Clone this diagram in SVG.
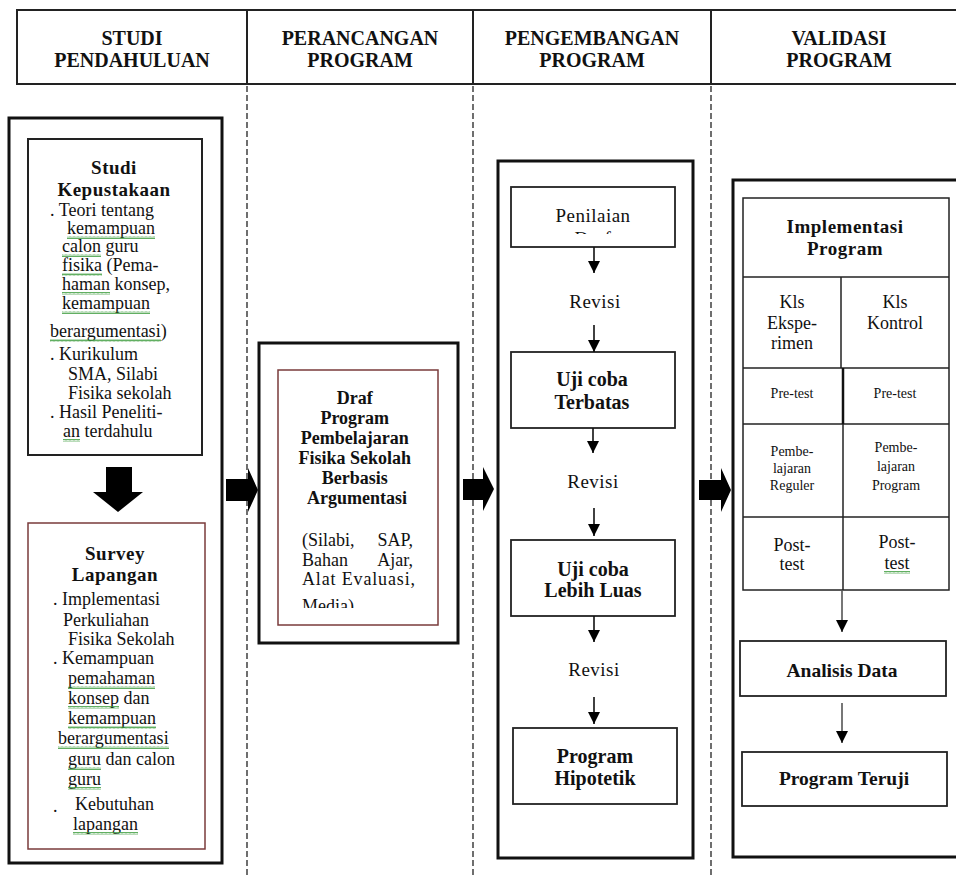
<svg xmlns="http://www.w3.org/2000/svg" width="956" height="878" viewBox="0 0 956 878">
<style>
text{font-family:"Liberation Serif","Times New Roman",serif;fill:#111}
.h{font-size:20px;font-weight:bold;text-anchor:middle}
.t{font-size:19px;font-weight:bold;text-anchor:middle;letter-spacing:0.5px}
.tb{font-size:20px;font-weight:bold;text-anchor:middle}
.b{font-size:18px}
.r{font-size:18px;text-anchor:end}
.c{font-size:19px;text-anchor:middle;letter-spacing:0.5px}
.k{font-size:18px;text-anchor:middle}
.s{font-size:14px;text-anchor:middle}
.outer{fill:#fff;stroke:#111;stroke-width:3}
.inner{fill:#fff;stroke:#222;stroke-width:2}
.brown{fill:#fff;stroke:#7a3b3b;stroke-width:1.5}
.box{fill:#fff;stroke:#222;stroke-width:1.8}
.grid{fill:none;stroke:#222;stroke-width:1.5}
.dash{stroke:#222;stroke-width:1.3;stroke-dasharray:6 3}
.ln{stroke:#111;stroke-width:1.6;fill:none;marker-end:url(#ah)}
.ln2{stroke:#555;stroke-width:1.6;fill:none;marker-end:url(#ah)}
.blk{fill:#000}
.sq{fill:url(#sq)}
</style>
<defs>
<marker id="ah" viewBox="0 0 10 10" refX="10" refY="5" markerWidth="12" markerHeight="12" markerUnits="userSpaceOnUse" orient="auto"><path d="M0,0 L10,5 L0,10 z" fill="#000"/></marker>
<pattern id="sq" width="4" height="3" patternUnits="userSpaceOnUse"><path d="M0,2.5 L1,0.5 L2,2.5 L3,0.5 L4,2.5" fill="none" stroke="#3a9a3a" stroke-width="0.8"/></pattern>
<clipPath id="clipMedia"><rect x="278" y="370" width="160" height="238"/></clipPath>
<clipPath id="clipDraf"><rect x="511" y="187" width="164" height="47"/></clipPath>
</defs>

<g id="header">
<rect x="17" y="10" width="960" height="74" fill="#fff" stroke="#222" stroke-width="2"/>
<line x1="247" y1="10" x2="247" y2="84" stroke="#222" stroke-width="2"/>
<line x1="473" y1="10" x2="473" y2="84" stroke="#222" stroke-width="2"/>
<line x1="711" y1="10" x2="711" y2="85" stroke="#222" stroke-width="2"/>
<text class="h" x="132" y="45">STUDI</text>
<text class="h" x="132" y="67">PENDAHULUAN</text>
<text class="h" x="360" y="45">PERANCANGAN</text>
<text class="h" x="360" y="67">PROGRAM</text>
<text class="h" x="592" y="45">PENGEMBANGAN</text>
<text class="h" x="592" y="67">PROGRAM</text>
<text class="h" x="839" y="45">VALIDASI</text>
<text class="h" x="839" y="67">PROGRAM</text>
</g>

<g id="lanes">
<line class="dash" x1="247" y1="86" x2="247" y2="878"/>
<line class="dash" x1="473" y1="86" x2="473" y2="878"/>
<line class="dash" x1="711" y1="86" x2="711" y2="878"/>
</g>

<g id="studi-pendahuluan">
<rect class="outer" x="9" y="118" width="213" height="745"/>
</g>

<g id="studi-kepustakaan">
<rect class="inner" x="28" y="139" width="174" height="316"/>
<text class="t" x="114" y="174">Studi</text>
<text class="t" x="114" y="196">Kepustakaan</text>
<text class="b">
<tspan x="50" y="216">. Teori tentang</tspan>
<tspan x="67" y="234">kemampuan</tspan>
<tspan x="62" y="252">calon guru</tspan>
<tspan x="62" y="271">fisika (Pema-</tspan>
<tspan x="62" y="290">haman konsep,</tspan>
<tspan x="62" y="309">kemampuan</tspan>
<tspan x="50" y="337">berargumentasi)</tspan>
<tspan x="50" y="360">. Kurikulum</tspan>
<tspan x="68" y="380">SMA, Silabi</tspan>
<tspan x="68" y="399">Fisika sekolah</tspan>
<tspan x="50" y="418">.  Hasil  Peneliti-</tspan>
<tspan x="63" y="437">an terdahulu</tspan>
</text>
<rect class="sq" x="67" y="236" width="88" height="3"/>
<rect class="sq" x="62" y="254" width="39" height="3"/>
<rect class="sq" x="62" y="273" width="40" height="3"/>
<rect class="sq" x="62" y="292" width="48" height="3"/>
<rect class="sq" x="62" y="311" width="88" height="3"/>
<rect class="sq" x="50" y="339" width="111" height="3"/>
<rect class="sq" x="63" y="439" width="17" height="3"/>
</g>

<g id="survey-lapangan">
<rect class="brown" x="28" y="523" width="177" height="326"/>
<text class="t" x="115" y="560">Survey</text>
<text class="t" x="115" y="581">Lapangan</text>
<text class="b">
<tspan x="53" y="605">. Implementasi</tspan>
<tspan x="63" y="626">Perkuliahan</tspan>
<tspan x="68" y="645">Fisika Sekolah</tspan>
<tspan x="53" y="664">. Kemampuan</tspan>
<tspan x="68" y="684">pemahaman</tspan>
<tspan x="68" y="704">konsep dan</tspan>
<tspan x="68" y="724">kemampuan</tspan>
<tspan x="58" y="744">berargumentasi</tspan>
<tspan x="68" y="765">guru dan calon</tspan>
<tspan x="68" y="785">guru</tspan>
</text>
<text class="b" x="53" y="812">.</text>
<text class="b" x="75" y="810">Kebutuhan</text>
<text class="b" x="73" y="830">lapangan</text>
<rect class="sq" x="68" y="686" width="87" height="3"/>
<rect class="sq" x="68" y="706" width="51" height="3"/>
<rect class="sq" x="68" y="726" width="88" height="3"/>
<rect class="sq" x="58" y="746" width="111" height="3"/>
<rect class="sq" x="68" y="767" width="33" height="3"/>
<rect class="sq" x="68" y="787" width="33" height="3"/>
<rect class="sq" x="73" y="832" width="65" height="3"/>
</g>

<g id="perancangan">
<rect class="outer" x="259" y="343" width="199" height="300"/>
</g>

<g id="draf-program">
<rect class="brown" x="278" y="370" width="160" height="255"/>
<text class="tb" style="font-size:18px" x="357">
<tspan x="357" y="404">Draf</tspan>
<tspan x="357" y="424">Program</tspan>
<tspan x="357" y="444">Pembelajaran</tspan>
<tspan x="357" y="464">Fisika Sekolah</tspan>
<tspan x="357" y="484">Berbasis</tspan>
<tspan x="357" y="504">Argumentasi</tspan>
</text>
<g clip-path="url(#clipMedia)">
<text class="b" x="302" y="546">(Silabi,</text>
<text class="r" x="413" y="546">SAP,</text>
<text class="b" x="302" y="566">Bahan</text>
<text class="r" x="413" y="566">Ajar,</text>
<text class="b" x="302" y="585" textLength="113" lengthAdjust="spacing">Alat Evaluasi,</text>
<text class="b" x="302" y="612">Media)</text>
</g>
</g>

<g id="pengembangan">
<rect class="outer" x="498" y="161" width="195" height="697"/>
</g>

<g id="penilaian-draf">
<rect class="box" x="511" y="187" width="164" height="60"/>
<g clip-path="url(#clipDraf)">
<text class="c" x="593" y="222">Penilaian</text>
<text class="c" x="593" y="245">Draf</text>
</g>
</g>

<g id="revisi-1"><text class="c" x="595" y="308">Revisi</text></g>

<g id="uji-terbatas">
<rect class="box" x="511" y="352" width="164" height="76"/>
<text class="tb" x="592" y="386">Uji coba</text>
<text class="tb" x="592" y="409">Terbatas</text>
</g>

<g id="revisi-2"><text class="c" x="593" y="488">Revisi</text></g>

<g id="uji-luas">
<rect class="box" x="511" y="540" width="164" height="76"/>
<text class="tb" x="593" y="576">Uji coba</text>
<text class="tb" x="593" y="597">Lebih Luas</text>
</g>

<g id="revisi-3"><text class="c" x="594" y="676">Revisi</text></g>

<g id="program-hipotetik">
<rect class="box" x="513" y="728" width="164" height="76"/>
<text class="tb" x="595" y="763">Program</text>
<text class="tb" x="595" y="785">Hipotetik</text>
</g>

<g id="validasi">
<rect class="outer" x="733" y="180" width="240" height="677"/>
</g>

<g id="implementasi-program">
<rect class="grid" x="743" y="198" width="206" height="392" fill="#fff"/>
<line class="grid" x1="743" y1="277" x2="949" y2="277"/>
<line class="grid" x1="743" y1="368" x2="949" y2="368"/>
<line class="grid" x1="743" y1="424" x2="949" y2="424"/>
<line class="grid" x1="743" y1="517" x2="949" y2="517"/>
<line class="grid" x1="841" y1="277" x2="841" y2="368"/>
<line x1="843" y1="368" x2="843" y2="424" stroke="#111" stroke-width="2.5"/>
<line class="grid" x1="843" y1="424" x2="843" y2="590"/>
<text class="t" x="845" y="233">Implementasi</text>
<text class="t" x="845" y="255">Program</text>
<text class="k" x="792" y="308">Kls</text>
<text class="k" x="792" y="329">Ekspe-</text>
<text class="k" x="792" y="349">rimen</text>
<text class="k" x="895" y="308">Kls</text>
<text class="k" x="895" y="329">Kontrol</text>
<text class="s" x="792" y="398">Pre-test</text>
<text class="s" x="895" y="398">Pre-test</text>
<text class="s" x="792" y="456">Pembe-</text>
<text class="s" x="792" y="473">lajaran</text>
<text class="s" x="792" y="490">Reguler</text>
<text class="s" x="896" y="452">Pembe-</text>
<text class="s" x="896" y="471">lajaran</text>
<text class="s" x="896" y="490">Program</text>
<text class="k" x="792" y="551">Post-</text>
<text class="k" x="792" y="570">test</text>
<text class="k" x="897" y="548">Post-</text>
<text class="k" x="897" y="569">test</text>
<rect class="sq" x="884" y="571" width="26" height="3"/>
</g>

<g id="analisis-data">
<rect class="box" x="740" y="641" width="206" height="55"/>
<text class="tb" style="font-size:19.5px" x="842" y="677">Analisis Data</text>
</g>

<g id="program-teruji">
<rect class="box" x="742" y="752" width="205" height="54"/>
<text class="tb" style="font-size:19.5px" x="844" y="785">Program Teruji</text>
</g>

<g id="connectors">
<path class="blk" d="M106,467 H132 V492 H143 L118,512 L93,492 H106 Z"/>
<path class="blk" d="M226,479 H248 V468 L258,490 L248,512 V501 H226 Z"/>
<path class="blk" d="M463,479 H483 V467 L494,489 L483,511 V500 H463 Z"/>
<path class="blk" d="M699,480 H721 V468 L731,490 L721,512 V500 H699 Z"/>
<line class="ln" x1="594" y1="247" x2="594" y2="273"/>
<line class="ln" x1="594" y1="325" x2="594" y2="352"/>
<line class="ln" x1="593" y1="428" x2="593" y2="453"/>
<line class="ln" x1="594" y1="508" x2="594" y2="536"/>
<line class="ln" x1="594" y1="616" x2="594" y2="642"/>
<line class="ln" x1="594" y1="697" x2="594" y2="724"/>
<line class="ln2" x1="842" y1="590" x2="842" y2="632"/>
<line class="ln2" x1="842" y1="703" x2="842" y2="743"/>
</g>
</svg>
